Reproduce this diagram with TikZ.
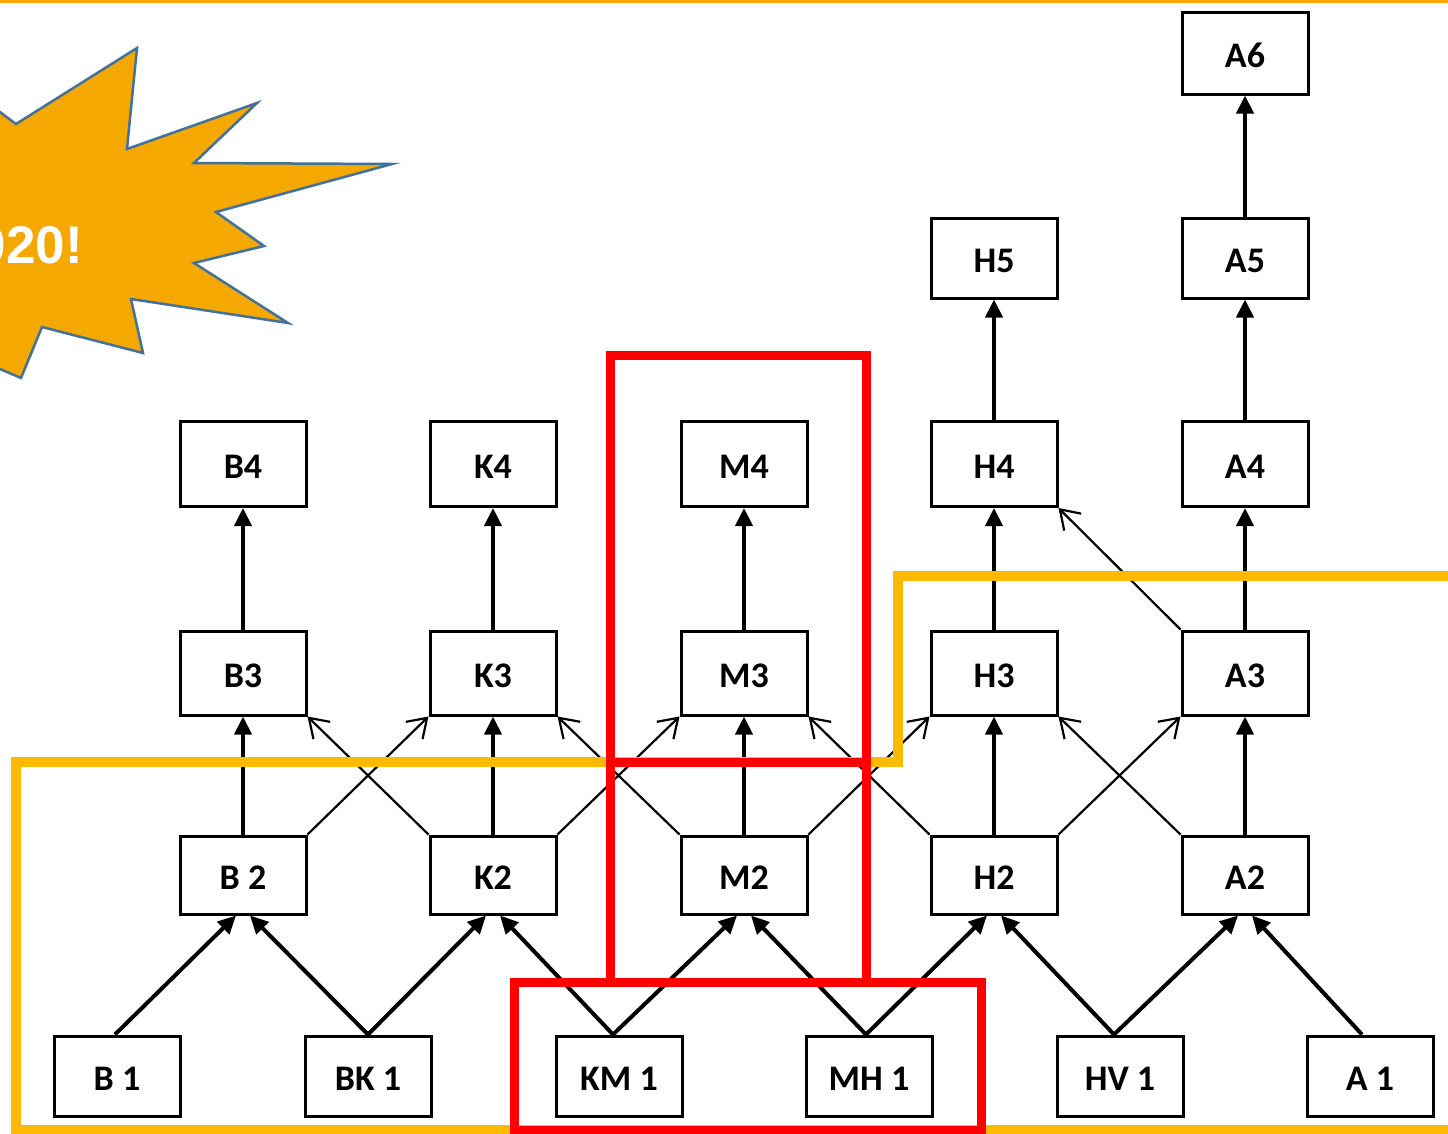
\documentclass[tikz,border=0pt]{standalone}
\usepackage{fontspec}
\setmainfont{Carlito}
\newfontfamily\burstfont{Liberation Sans}
\usetikzlibrary{arrows.meta}
\definecolor{frameorange}{RGB}{255,185,0}
\definecolor{burstorange}{RGB}{245,168,0}
\definecolor{burstblue}{RGB}{65,113,156}
\definecolor{framered}{RGB}{255,0,0}
\tikzset{
  box/.style={draw=black, line width=3pt, fill=white, minimum width=126pt, inner sep=0pt,
    text height=29pt, text depth=0pt,
    font=\fontsize{36}{40}\selectfont\bfseries, text=black},
  thick arrow/.style={line width=4pt, -{Triangle[length=18pt,width=17pt]}},
  thin arrow/.style={line width=2.2pt, -{Straight Barb[length=18pt,width=24pt,line width=2.2pt]}},
  orange frame/.style={draw=frameorange, line width=10pt, line join=miter},
  red frame/.style={draw=framered, line width=9pt, line join=miter},
}
\begin{document}
\begin{tikzpicture}[x=1pt,y=-1pt]
\useasboundingbox (0,0) rectangle (1448,1133);
\clip (0,0) rectangle (1448,1133);
\fill[white] (0,0) rectangle (1448,1133);
% top line
\draw[burstorange, line width=3pt] (0,1) -- (1448,1) coordinate (topline);
% starburst
\filldraw[fill=burstorange, draw=burstblue, line width=2.5pt, line join=miter]
  (-40,82) -- (16,124) -- (137,48) -- (127,149) -- (257,103) -- (194,163) -- (392,164)
  -- (216,212) -- (264,246) -- (194,263) -- (288,323) -- (131,299) -- (143,353)
  -- (42,327) -- (21,378) -- (-40,352) -- cycle;
\node[anchor=base east, inner sep=0pt, text=white, font=\burstfont\fontsize{53}{60}\selectfont\bfseries] (burst) at (83,263) {2020!};
% row 6/5
\node[box, minimum height=82pt] (A6) at (1245,53) {A6};
\node[box, minimum height=80pt] (H5) at (994,258) {H5};
\node[box, minimum height=80pt] (A5) at (1245,258) {A5};
% row 4
\node[box, minimum height=85pt] (B4) at (243,464) {B4};
\node[box, minimum height=85pt] (K4) at (493,464) {K4};
\node[box, minimum height=85pt] (M4) at (744,464) {M4};
\node[box, minimum height=85pt] (H4) at (994,464) {H4};
\node[box, minimum height=85pt] (A4) at (1245,464) {A4};
% row 3
\node[box, minimum height=84pt] (B3) at (243,673) {B3};
\node[box, minimum height=84pt] (K3) at (493,673) {K3};
\node[box, minimum height=84pt] (M3) at (744,673) {M3};
\node[box, minimum height=84pt] (H3) at (994,673) {H3};
\node[box, minimum height=84pt] (A3) at (1245,673) {A3};
% row 2
\node[box, minimum height=78pt] (B2) at (243,875) {B 2};
\node[box, minimum height=78pt] (K2) at (493,875) {K2};
\node[box, minimum height=78pt] (M2) at (744,875) {M2};
\node[box, minimum height=78pt] (H2) at (994,875) {H2};
\node[box, minimum height=78pt] (A2) at (1245,875) {A2};
% row 1
\node[box, minimum height=80pt] (B1) at (117,1076) {B 1};
\node[box, minimum height=80pt] (BK1) at (368,1076) {BK 1};
\node[box, minimum height=80pt] (KM1) at (619,1076) {KM 1};
\node[box, minimum height=80pt] (MH1) at (869,1076) {MH 1};
\node[box, minimum height=80pt] (HV1) at (1120,1076) {HV 1};
\node[box, minimum height=80pt] (A1) at (1370,1076) {A 1};
% row1 -> row2
\draw[thick arrow] ([xshift=-2pt]B1.north) -- ([xshift=-7pt]B2.south);
\draw[thick arrow] (BK1.north) -- ([xshift=7pt]B2.south);
\draw[thick arrow] (BK1.north) -- ([xshift=-7pt]K2.south);
\draw[thick arrow] ([xshift=-6pt]KM1.north) -- ([xshift=7pt]K2.south);
\draw[thick arrow] ([xshift=-6pt]KM1.north) -- ([xshift=-7pt]M2.south);
\draw[thick arrow] ([xshift=-3pt]MH1.north) -- ([xshift=7pt]M2.south);
\draw[thick arrow] ([xshift=-3pt]MH1.north) -- ([xshift=-7pt]H2.south);
\draw[thick arrow] ([xshift=-6pt]HV1.north) -- ([xshift=7pt]H2.south);
\draw[thick arrow] ([xshift=-6pt]HV1.north) -- ([xshift=-7pt]A2.south);
\draw[thick arrow] ([xshift=-8pt]A1.north) -- ([xshift=7pt]A2.south);
% verticals
\foreach \c in {B,K,M,H,A}{
  \draw[thick arrow] (\c2.north) -- (\c3.south);
  \draw[thick arrow] (\c3.north) -- (\c4.south);
}
\draw[thick arrow] (H4.north) -- (H5.south);
\draw[thick arrow] (A4.north) -- (A5.south);
\draw[thick arrow] (A5.north) -- (A6.south);
% thin crossings
\draw[thin arrow] (B2.north east) -- (K3.south west);
\draw[thin arrow] (K2.north west) -- (B3.south east);
\draw[thin arrow] (K2.north east) -- (M3.south west);
\draw[thin arrow] (M2.north west) -- (K3.south east);
\draw[thin arrow] (M2.north east) -- (H3.south west);
\draw[thin arrow] (H2.north west) -- (M3.south east);
\draw[thin arrow] (H2.north east) -- (A3.south west);
\draw[thin arrow] (A2.north west) -- (H3.south east);
\draw[thin arrow] (A3.north west) -- (H4.south east);
% frames
\draw[orange frame] (1470,576) -- (898,576) -- (898,762) -- (16,762) -- (16,1130) -- (1470,1130);
\draw[red frame] (610,982) -- (610,355) -- (866,355) -- (866,982);
\draw[red frame] (610,762) -- (866,762);
\draw[red frame] (514,982) rectangle (981,1130);
\end{tikzpicture}
\end{document}
